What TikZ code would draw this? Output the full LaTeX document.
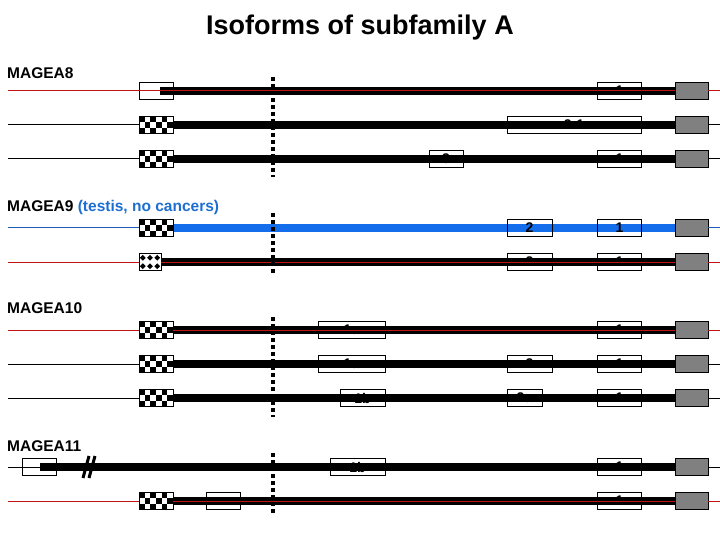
\documentclass[tikz,border=0pt]{standalone}
\usepackage{fontspec}
\setmainfont{Liberation Sans}
\pgfdeclarelayer{bg}
\pgfsetlayers{bg,main}
\definecolor{dred}{RGB}{190,20,20}
\definecolor{mblue}{RGB}{20,110,235}
\definecolor{tblue}{RGB}{30,90,180}
\definecolor{lblue}{RGB}{30,110,210}
\definecolor{greyf}{RGB}{128,128,128}
\begin{document}
\begin{tikzpicture}[x=1pt,y=-1pt,
  box/.style={draw, line width=0.9pt, minimum height=17pt, inner sep=0pt, font=\bfseries\fontsize{14}{14}\selectfont},
  greyb/.style={box, fill=greyf, minimum width=33pt},
  chk/.style={box, minimum width=34pt, fill=white, path picture={
      \foreach \i in {0,...,5}{\foreach \j in {0,1,2}{
        \pgfmathtruncatemacro\chkp{mod(\i+\j,2)}
        \ifnum\chkp=0 \fill[black] ([xshift=\i*5.667pt,yshift=-\j*5.667pt]path picture bounding box.north west) rectangle ++(5.667pt,-5.667pt);\fi}}}},
  dia/.style={box, minimum width=22pt, fill=white, path picture={
      \foreach \i in {0,1,2}{\foreach \j in {0,1}{
        \fill[black] ([xshift=3.8pt+\i*7.2pt,yshift=-1.4pt-\j*8.4pt]path picture bounding box.north west)
          -- ++(2.9pt,-2.9pt) -- ++(-2.9pt,-2.9pt) -- ++(-2.9pt,2.9pt) -- cycle;}}}},
  thickl/.style={line width=7.5pt},
  thinl/.style={line width=1pt},
  dots/.style={line width=3.6pt, dash pattern=on 3.6pt off 3.4pt},
  lab/.style={anchor=west, inner sep=0pt, font=\bfseries\fontsize{15.5}{15.5}\selectfont}
]
\useasboundingbox (0,0) rectangle (720,540);
\node[font=\bfseries\fontsize{27}{27}\selectfont] (title) at (360,28) {Isoforms of subfamily A};

% ---------- MAGEA8 ----------
\node[lab] (t8) at (7,73) {MAGEA8};
% row a (red)
\coordinate (a8x) at (8,91); \coordinate (a8y) at (720,91); \coordinate (a8s) at (160,91);
\node[box, minimum width=34pt] (a8l) at (156,91) {};
\node[box, minimum width=44pt] (a8b1) at (619.5,91) {1};
\node[greyb] (a8g) at (691.5,91) {};
% row b (black)
\coordinate (b8x) at (8,125); \coordinate (b8y) at (720,125);
\node[chk] (b8l) at (156,125) {};
\node[box, minimum width=134pt] (b8b1) at (574,125) {2-1};
\node[greyb] (b8g) at (691.5,125) {};
% row c (black)
\coordinate (c8x) at (8,159); \coordinate (c8y) at (720,159);
\node[chk] (c8l) at (156,159) {};
\node[box, minimum width=34pt] (c8b3) at (446,159) {3};
\node[box, minimum width=44pt] (c8b1) at (619.5,159) {1};
\node[greyb] (c8g) at (691.5,159) {};
\coordinate (d8a) at (273,77); \coordinate (d8b) at (273,177);

% ---------- MAGEA9 ----------
\node[lab] (t9) at (7,207) {MAGEA9 \textcolor{lblue}{(testis, no cancers)}};
% row a (blue)
\coordinate (a9x) at (8,228); \coordinate (a9y) at (720,228);
\node[chk] (a9l) at (156,228) {};
\node[box, minimum width=45pt] (a9b2) at (529.5,228) {2};
\node[box, minimum width=44pt] (a9b1) at (619.5,228) {1};
\node[greyb] (a9g) at (691.5,228) {};
% row b (red)
\coordinate (b9x) at (8,262); \coordinate (b9y) at (720,262);
\node[dia] (b9l) at (150,262) {};
\node[box, minimum width=45pt] (b9b2) at (529.5,262) {2};
\node[box, minimum width=44pt] (b9b1) at (619.5,262) {1};
\node[greyb] (b9g) at (691.5,262) {};
\coordinate (d9a) at (273,213); \coordinate (d9b) at (273,273);

% ---------- MAGEA10 ----------
\node[lab] (t10) at (7,308) {MAGEA10};
% row a (red)
\coordinate (a10x) at (8,330); \coordinate (a10y) at (720,330);
\node[chk] (a10l) at (156,330) {};
\node[box, minimum width=67pt] (a10b1a) at (351.5,330) {1a};
\node[box, minimum width=44pt] (a10b1) at (619.5,330) {1};
\node[greyb] (a10g) at (691.5,330) {};
% row b (black)
\coordinate (b10x) at (8,364); \coordinate (b10y) at (720,364);
\node[chk] (b10l) at (156,364) {};
\node[box, minimum width=67pt] (b10b1a) at (351.5,364) {1a};
\node[box, minimum width=45pt] (b10b2) at (529.5,364) {2};
\node[box, minimum width=44pt] (b10b1) at (619.5,364) {1};
\node[greyb] (b10g) at (691.5,364) {};
% row c (black)
\coordinate (c10x) at (8,398); \coordinate (c10y) at (720,398);
\node[chk] (c10l) at (156,398) {};
\node[box, minimum width=45pt] (c10b1b) at (362.5,398) {1b};
\node[box, minimum width=35pt] (c10b2a) at (524.5,398) {2a};
\node[box, minimum width=44pt] (c10b1) at (619.5,398) {1};
\node[greyb] (c10g) at (691.5,398) {};
\coordinate (d10a) at (273,317); \coordinate (d10b) at (273,417);

% ---------- MAGEA11 ----------
\node[lab] (t11) at (7,446) {MAGEA11};
% row a (black)
\coordinate (a11x) at (8,467); \coordinate (a11y) at (720,467); \coordinate (a11s) at (40,467);
\node[box, minimum width=34pt] (a11l) at (39,467) {};
\node[box, minimum width=55pt] (a11b1b) at (357.5,467) {1b};
\node[box, minimum width=44pt] (a11b1) at (619.5,467) {1};
\node[greyb] (a11g) at (691.5,467) {};
\coordinate (s1a) at (83,478); \coordinate (s1b) at (89,456);
\coordinate (s2a) at (89,478); \coordinate (s2b) at (95,456);
% row b (red)
\coordinate (b11x) at (8,501); \coordinate (b11y) at (720,501);
\node[chk] (b11l) at (156,501) {};
\node[box, minimum width=34pt] (b11w) at (223.5,501) {};
\node[box, minimum width=44pt] (b11b1) at (619.5,501) {1};
\node[greyb] (b11g) at (691.5,501) {};
\coordinate (d11a) at (273,453); \coordinate (d11b) at (273,513);

% ---------- thick lines (behind boxes) ----------
\begin{pgfonlayer}{bg}
  \draw[thickl] (a8s) -- (a8g.west);
  \draw[thickl] (b8l.east) -- (b8g.west);
  \draw[thickl] (c8l.east) -- (c8g.west);
  \draw[thickl, mblue] (a9l.east) -- (a9g.west);
  \draw[thickl] (b9l.east) -- (b9g.west);
  \draw[thickl] (a10l.east) -- (a10g.west);
  \draw[thickl] (b10l.east) -- (b10g.west);
  \draw[thickl] (c10l.east) -- (c10g.west);
  \draw[thickl] (a11s) -- (a11g.west);
  \draw[thickl] (b11l.east) -- (b11g.west);
\end{pgfonlayer}

% ---------- thin lines ----------
% red rows
\draw[thinl, dred] (a8x) -- (a8g.west) (a8g.east) -- (a8y);
\draw[thinl, dred] (b9x) -- (b9l.west) (b9l.east) -- (b9g.west) (b9g.east) -- (b9y);
\draw[thinl, dred] (a10x) -- (a10l.west) (a10l.east) -- (a10g.west) (a10g.east) -- (a10y);
\draw[thinl, dred] (b11x) -- (b11l.west) (b11l.east) -- (b11g.west) (b11g.east) -- (b11y);
% black rows
\draw[thinl] (b8x) -- (b8l.west) (b8g.east) -- (b8y);
\draw[thinl] (c8x) -- (c8l.west) (c8g.east) -- (c8y);
\draw[thinl] (b10x) -- (b10l.west) (b10g.east) -- (b10y);
\draw[thinl] (c10x) -- (c10l.west) (c10g.east) -- (c10y);
\draw[thinl] (a11x) -- (a11s) (a11g.east) -- (a11y);
% blue row
\draw[thinl, tblue] (a9x) -- (a9l.west) (a9g.east) -- (a9y);

% break mark
\draw[line width=3pt] (s1a) -- (s1b) (s2a) -- (s2b);

% ---------- dotted verticals ----------
\draw[dots] (d8a) -- (d8b);
\draw[dots] (d9a) -- (d9b);
\draw[dots] (d10a) -- (d10b);
\draw[dots] (d11a) -- (d11b);
\end{tikzpicture}
\end{document}
